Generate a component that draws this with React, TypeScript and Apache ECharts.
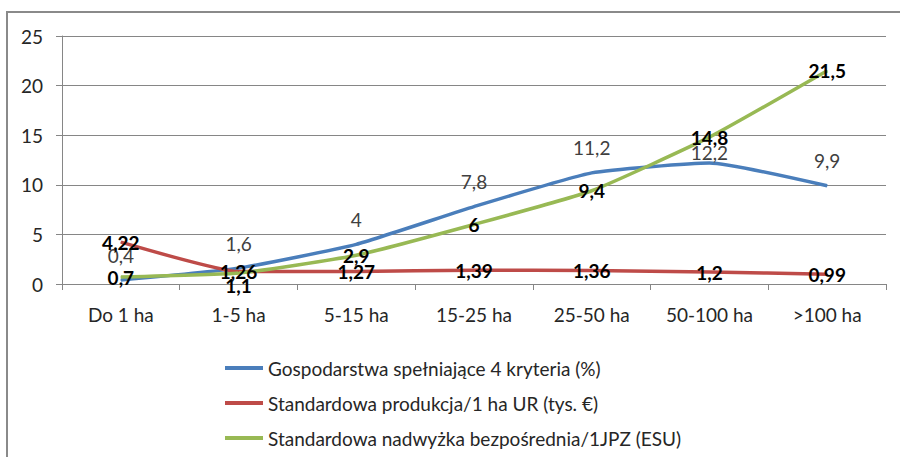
import React, { useEffect, useRef } from "react";
import * as echarts from "echarts";

const categories = ["Do 1 ha", "1-5 ha", "5-15 ha", "15-25 ha", "25-50 ha", "50-100 ha", ">100 ha"];
const seriesNames = [
  "Gospodarstwa spełniające 4 kryteria (%)",
  "Standardowa produkcja/1 ha UR (tys. €)",
  "Standardowa nadwyżka bezpośrednia/1JPZ (ESU)",
];
const gospodarstwa = [0.4, 1.6, 4, 7.8, 11.2, 12.2, 9.9];
const produkcja = [4.22, 1.26, 1.27, 1.39, 1.36, 1.2, 0.99];
const nadwyzka = [0.7, 1.1, 2.9, 6, 9.4, 14.8, 21.5];
const yTicks = { min: 0, max: 25, interval: 5 };

const FONT = "Lato";
const FS = 19;
const fmt = (v: number) => String(v).replace(".", ",");

export default function App() {
  const ref = useRef<HTMLDivElement>(null);
  useEffect(() => {
    document.body.style.margin = "0";
    const chart = echarts.init(ref.current!, null, { renderer: "svg" });
    const blueOffsets = gospodarstwa.map((_, i) => (i === 5 ? [0, -10] : [0, -25]));
    const greenOffsets = nadwyzka.map((_, i) => (i === 1 ? [0, 12] : [0, 0]));
    const lineBase = {
      type: "line",
      smooth: 0.15,
      symbol: "circle",
      symbolSize: 1,
      showSymbol: true,
    };
    chart.setOption({
      animation: false,
      backgroundColor: "#ffffff",
      textStyle: { fontFamily: FONT },
      graphic: [
        {
          type: "rect",
          shape: { x: 7, y: 12, width: 920, height: 480 },
          style: { fill: "none", stroke: "#8a8a8a", lineWidth: 2 },
          silent: true,
        },
      ],
      grid: { left: 62, right: 14, top: 36, bottom: 173, containLabel: false, outerBoundsMode: "none" },
      legend: {
        orient: "vertical",
        left: 220,
        top: 353,
        itemWidth: 38,
        itemHeight: 4,
        itemGap: 15,
        icon: "rect",
        data: seriesNames,
        textStyle: { fontFamily: FONT, fontSize: FS, color: "#262626", lineHeight: 20 },
      },
      xAxis: {
        type: "category",
        data: categories,
        boundaryGap: true,
        axisLine: { lineStyle: { color: "#868686", width: 1 } },
        axisTick: { show: true, length: 6, lineStyle: { color: "#868686" } },
        axisLabel: { fontFamily: FONT, fontSize: FS, color: "#262626", margin: 21 },
      },
      yAxis: {
        type: "value",
        min: yTicks.min,
        max: yTicks.max,
        interval: yTicks.interval,
        axisLine: { show: true, lineStyle: { color: "#868686", width: 1 } },
        axisTick: { show: true, length: 6, lineStyle: { color: "#868686" } },
        splitLine: { lineStyle: { color: "#868686", width: 1 } },
        axisLabel: { fontFamily: FONT, fontSize: FS, color: "#262626", margin: 19 },
      },
      series: [
        {
          ...lineBase,
          name: seriesNames[0],
          data: gospodarstwa.map((v, i) => ({
            value: v,
            label: { offset: blueOffsets[i] },
          })),
          lineStyle: { color: "#4A7EBB", width: 3.5 },
          itemStyle: { color: "#4A7EBB" },
          label: {
            show: true,
            position: "inside",
            fontFamily: FONT,
            fontSize: FS,
            color: "#404040",
            formatter: (p: any) => fmt(p.value),
          },
        },
        {
          ...lineBase,
          name: seriesNames[1],
          data: produkcja,
          lineStyle: { color: "#BE4B48", width: 3.5 },
          itemStyle: { color: "#BE4B48" },
          label: {
            show: true,
            position: "inside",
            fontFamily: FONT,
            fontSize: FS,
            fontWeight: "bold",
            color: "#000000",
            formatter: (p: any) => fmt(p.value),
          },
        },
        {
          ...lineBase,
          name: seriesNames[2],
          data: nadwyzka.map((v, i) => ({
            value: v,
            label: { offset: greenOffsets[i] },
          })),
          lineStyle: { color: "#98B954", width: 3.5 },
          itemStyle: { color: "#98B954" },
          label: {
            show: true,
            position: "inside",
            fontFamily: FONT,
            fontSize: FS,
            fontWeight: "bold",
            color: "#000000",
            formatter: (p: any) => fmt(p.value),
          },
        },
      ],
    });
    return () => chart.dispose();
  }, []);
  return <div ref={ref} style={{ width: 900, height: 457 }} />;
}
